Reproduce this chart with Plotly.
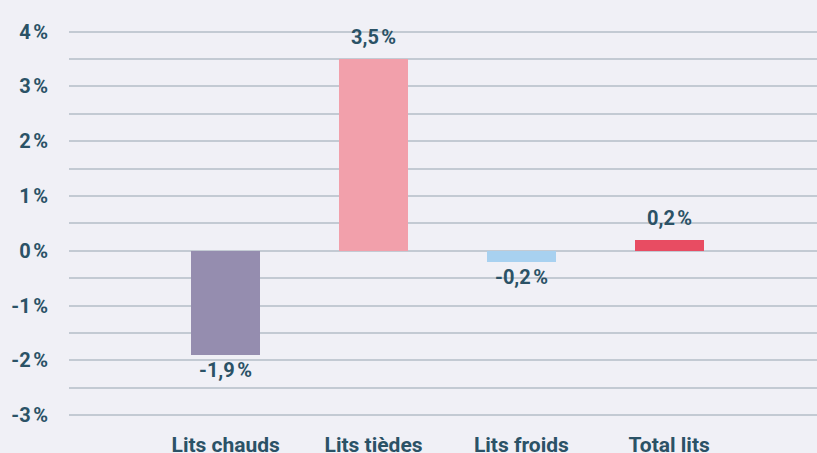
import plotly.graph_objects as go

categories = ["Lits chauds", "Lits tièdes", "Lits froids", "Total lits"]
values = [-1.9, 3.5, -0.2, 0.2]
value_labels = ["-1,9\u202f%", "3,5\u202f%", "-0,2\u202f%", "0,2\u202f%"]
colors = ["#958daf", "#f2a0ab", "#a8d1f0", "#e84c62"]
y_tickvals = [-3, -2, -1, 0, 1, 2, 3, 4]
y_ticktext = ["-3\u202f%", "-2\u202f%", "-1\u202f%", "0\u202f%", "1\u202f%", "2\u202f%", "3\u202f%", "4\u202f%"]

text_color = "#2b5266"
grid_color = "#c3cad3"
bg = "#f0f0f6"

fig = go.Figure()
fig.add_trace(go.Bar(
    x=list(range(len(categories))), y=values,
    marker=dict(color=colors, line=dict(width=0)),
    width=0.467, hoverinfo="skip",
))

for i, (v, t) in enumerate(zip(values, value_labels)):
    fig.add_annotation(
        x=i, y=v, text=t, showarrow=False,
        yanchor="bottom" if v >= 0 else "top",
        yshift=8 if v >= 0 else -1,
        font=dict(family="Roboto", size=20, color=text_color, weight=700),
    )

fig.update_layout(
    width=817, height=453,
    margin=dict(l=69, r=0, t=20, b=28, autoexpand=False),
    paper_bgcolor=bg, plot_bgcolor=bg,
    showlegend=False,
    bargap=0,
)
fig.update_xaxes(
    range=[-1.06, 4.0],
    tickvals=list(range(len(categories))), ticktext=categories,
    showgrid=False, zeroline=False, showline=False,
    ticks="outside", ticklen=1, tickcolor="rgba(0,0,0,0)",
    automargin=False,
    tickfont=dict(family="Roboto", size=21, color=text_color, weight=700),
)
fig.update_yaxes(
    range=[-3.18, 4.21],
    tickvals=y_tickvals, ticktext=y_ticktext,
    showgrid=True, gridcolor=grid_color, gridwidth=1.5,
    minor=dict(dtick=0.5, tick0=0, showgrid=True, gridcolor=grid_color, gridwidth=1.5),
    zeroline=False, showline=False,
    automargin=False,
    ticklabelstandoff=20,
    tickfont=dict(family="Roboto", size=20, color=text_color, weight=700),
)

fig.write_html(
    "out.html",
    config={"displayModeBar": False},
    post_script="document.body.style.margin='0';document.body.style.padding='0';document.documentElement.style.overflow='hidden';",
)
